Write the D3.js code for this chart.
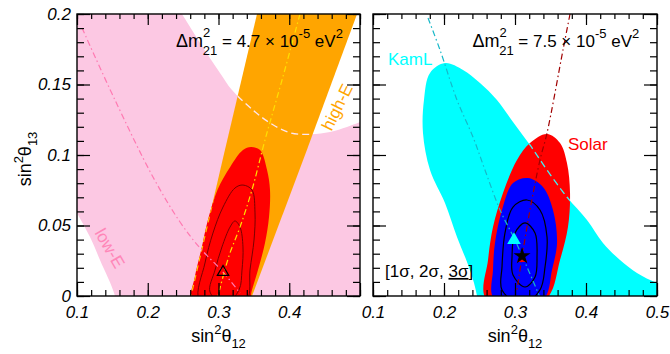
<!DOCTYPE html>
<html>
<head>
<meta charset="utf-8">
<title>Solar, KamLAND and high/low-E regions</title>
<script src="https://cdn.jsdelivr.net/npm/d3@7/dist/d3.min.js"></script>
<style>
body{
  margin:0;
  background:#fff}

svg{
  display:block;
  font-family:"Liberation Sans", Arial, sans-serif}

.tick text{
  font-family:"Liberation Sans", Arial, sans-serif;
  font-size:17px;
  font-style:italic;
  fill:#000}

.tick line{
  stroke:#000;
  stroke-width:1.2}
</style>
</head>
<body>
<script>
// ---- axis ticks ----
const xTicks = [0.1, 0.2, 0.3, 0.4, 0.5]
const yTicks = [0, 0.05, 0.1, 0.15, 0.2]

// ---- left panel (dm21 = 4.7e-5), points are [sin^2 th12, sin^2 th13] ----
const lowE = [
  [0.070, 0.230], [0.232, 0.213], [0.2484, 0.200], [0.2739, 0.1794], [0.3021, 0.1582],
  [0.3191, 0.1461], [0.3488, 0.1319], [0.3728, 0.1227], [0.4011, 0.1158], [0.4308, 0.1147],
  [0.4576, 0.1163], [0.4816, 0.1199], [0.500, 0.1234], [0.530, 0.130], [0.530, -0.020],
  [0.160, -0.020], [0.1537, 0.000], [0.1325, 0.0255], [0.1184, 0.0418], [0.100, 0.0589],
  [0.090, 0.068], [0.070, 0.090]
]
const highE = [[0.2564, -0.01], [0.3074, 0.1], [0.3591, 0.21], [0.5032, 0.21], [0.4223, 0.1], [0.3399, -0.01]]
const combinedLeft = [
  [0.3459, 0.1057], [0.3587, 0.1035], [0.3686, 0.0894], [0.3728, 0.0752], [0.3714, 0.0560],
  [0.3657, 0.0376], [0.3558, 0.0184], [0.3473, 0.0043], [0.3417, -0.006], [0.302, -0.015],
  [0.2615, -0.006], [0.2665, 0.0135], [0.2755, 0.0326], [0.2850, 0.0539], [0.2985, 0.0752],
  [0.3165, 0.0915], [0.3346, 0.1035]
]
const leftSigma2 = [
  [0.3346, 0.0787], [0.3473, 0.0752], [0.3516, 0.0589], [0.3502, 0.0397], [0.3445, 0.0184],
  [0.3403, -0.003], [0.3049, -0.013], [0.2724, -0.003], [0.2809, 0.0234], [0.2922, 0.0447],
  [0.3064, 0.0631], [0.3233, 0.0766]
]
const leftSigma1 = [
  [0.3233, 0.0532], [0.3304, 0.0489], [0.3346, 0.0348], [0.3332, 0.0184], [0.3290, 0.0043],
  [0.3092, -0.006], [0.2880, 0.0028], [0.2951, 0.0184], [0.3049, 0.0348], [0.3163, 0.0489]
]
const lowELine = [[0.1071, 0.1901], [0.1537, 0.139], [0.2074, 0.0844], [0.2456, 0.0525], [0.2739, 0.0340], [0.3064, 0.0170], [0.3304, 0.0021]]
const highELine = [[0.4152, 0.2], [0.3898, 0.1532], [0.3657, 0.1106], [0.3473, 0.0752], [0.3304, 0.0489], [0.3148, 0.0284], [0.2993, 0]]
const leftBest = [[0.3064, 0.0170]]

// ---- right panel (dm21 = 7.5e-5) ----
const kamL = [
  [0.2014, 0.1652], [0.2268, 0.1603], [0.2507, 0.1511], [0.2746, 0.1390], [0.2972, 0.1234],
  [0.3211, 0.1071], [0.3451, 0.0894], [0.3732, 0.0702], [0.4014, 0.0539], [0.4239, 0.0376],
  [0.4479, 0.0255], [0.4718, 0.0163], [0.500, 0.0092], [0.530, 0.005], [0.530, -0.020],
  [0.250, -0.020], [0.2465, 0.000], [0.2366, 0.0184], [0.2183, 0.0418], [0.2014, 0.0660],
  [0.1803, 0.0894], [0.1704, 0.1156], [0.1718, 0.1390], [0.1803, 0.1582]
]
const solar = [
  [0.3451, 0.1149], [0.3634, 0.1085], [0.3732, 0.0943], [0.3775, 0.0730], [0.3746, 0.0489],
  [0.3634, 0.0255], [0.3465, -0.001], [0.300, -0.015], [0.2577, -0.001], [0.2620, 0.0255],
  [0.2690, 0.0489], [0.2831, 0.0730], [0.3028, 0.0965], [0.3211, 0.1085]
]
const globalFit = [
  [0.3183, 0.0837], [0.3394, 0.0773], [0.3535, 0.0610], [0.3592, 0.0376], [0.3521, 0.0184],
  [0.3423, -0.001], [0.305, -0.012], [0.2690, -0.001], [0.2690, 0.0184], [0.2718, 0.0376],
  [0.2817, 0.0610], [0.2972, 0.0801]
]
const rightSigma2 = [
  [0.3169, 0.0681], [0.3352, 0.0610], [0.3451, 0.0418], [0.3423, 0.0206], [0.3352, 0.0043],
  [0.3099, -0.006], [0.2817, 0.0043], [0.2817, 0.0206], [0.2859, 0.0447], [0.2972, 0.0631]
]
const rightSigma1 = [
  [0.3141, 0.0518], [0.3282, 0.0447], [0.3310, 0.0277], [0.3282, 0.0135], [0.3141, 0.0064],
  [0.2972, 0.0149], [0.2958, 0.0277], [0.3000, 0.0447]
]
const kamLLine = [[0.1775, 0.1972], [0.1944, 0.1745], [0.2183, 0.1390], [0.2408, 0.1128], [0.2577, 0.0894], [0.2789, 0.0610], [0.3000, 0.0397], [0.3169, 0.0206], [0.3352, -0.001]]
const solarLine = [[0.3775, 0.2], [0.3676, 0.1745], [0.3451, 0.1156], [0.3352, 0.0965], [0.3211, 0.0610], [0.3099, 0.0277], [0.3028, 0.0043]]
const kamLBest = [[0.2986, 0.0397]]
const solarBest = [[0.3099, 0.0262]]
const globalBest = [[0.3099, 0.0284]]

// ---- colours ----
const pink = '#fcc8e3', orange = '#ffa500', red = '#ff0000', cyan = '#00ffff', blue = '#0000ff'

// ---- scales ----
const y = d3.scaleLinear().domain([0, 0.2]).range([296, 14])
const xLeft = d3.scaleLinear().domain([0.1, 0.5]).range([77, 360])
const xRight = d3.scaleLinear().domain([0.1, 0.5]).range([373, 657])

const svg = d3.select('body')
  .append('svg')
    .attr('width', 670)
    .attr('height', 354)

const defs = svg.append('defs')

const region = x => d3.line().x(d => x(d[0])).y(d => y(d[1])).curve(d3.curveCatmullRomClosed.alpha(0.5))
const polygon = x => d3.line().x(d => x(d[0])).y(d => y(d[1])).curve(d3.curveLinearClosed)
const curve = x => d3.line().x(d => x(d[0])).y(d => y(d[1])).curve(d3.curveCatmullRom.alpha(0.5))

const addClip = (id, d) => defs.append('clipPath').attr('id', id).append('path').attr('d', d)

const panelGroup = (x, name) => {
  addClip(name, `M${x(0.1)},${y(0.2)}H${x(0.5)}V${y(0)}H${x(0.1)}Z`)
  return svg.append('g').attr('clip-path', `url(#${name})`)
}

const fillPath = (g, d, color) => g.append('path').attr('d', d).attr('fill', color)

const strokePath = (g, d, color, dash, w = 1.2) => g.append('path')
    .attr('d', d)
    .attr('fill', 'none')
    .attr('stroke', color)
    .attr('stroke-width', w)
    .attr('stroke-dasharray', dash)

const dashDot = '6,3,1.5,3'

// ===== left panel =====
const gL = panelGroup(xLeft, 'frame-left')
const regionL = region(xLeft), polyL = polygon(xLeft), curveL = curve(xLeft)

fillPath(gL, regionL(lowE), pink)
fillPath(gL, polyL(highE), orange)
addClip('in-highE', polyL(highE))
strokePath(gL.append('g').attr('clip-path', 'url(#in-highE)'), regionL(lowE), '#fde6f1', '7,4', 1.3)
fillPath(gL, regionL(combinedLeft), red)
addClip('in-combined-left', regionL(combinedLeft))
strokePath(gL.append('g').attr('clip-path', 'url(#in-combined-left)'), polyL(highE), '#ffc800', '6,4', 1.3)
strokePath(gL, regionL(leftSigma2), '#7a0000', null, 1)
strokePath(gL, regionL(leftSigma1), '#7a0000', null, 1)
strokePath(gL, curveL(lowELine), '#ff7ab2', dashDot)
strokePath(gL, curveL(highELine), '#ffe000', dashDot)

gL.selectAll('.best')
  .data(leftBest)
  .enter().append('path')
    .attr('transform', d => `translate(${xLeft(d[0])},${y(d[1])})`)
    .attr('d', d3.symbol().type(d3.symbolTriangle).size(55))
    .attr('fill', 'none')
    .attr('stroke', '#000')
    .attr('stroke-width', 1.3)

// ===== right panel =====
const gR = panelGroup(xRight, 'frame-right')
const regionR = region(xRight), curveR = curve(xRight)

fillPath(gR, regionR(kamL), cyan)
fillPath(gR, regionR(solar), red)
addClip('in-solar', regionR(solar))
strokePath(gR.append('g').attr('clip-path', 'url(#in-solar)'), regionR(kamL), '#40f0f0', '7,4', 1.3)
fillPath(gR, regionR(globalFit), blue)
strokePath(gR, regionR(rightSigma2), '#000', null, 1.2)
strokePath(gR, regionR(rightSigma1), '#000', null, 1.2)
strokePath(gR, curveR(kamLLine), '#16b8c8', dashDot)
strokePath(gR, curveR(solarLine), '#a00000', dashDot)

const marker = (data, type, size, color) => gR.append('g')
  .selectAll('path')
  .data(data)
  .enter().append('path')
    .attr('transform', d => `translate(${xRight(d[0])},${y(d[1])})`)
    .attr('d', d3.symbol().type(type).size(size))
    .attr('fill', color)

marker(kamLBest, d3.symbolTriangle, 80, cyan)
marker(solarBest, d3.symbolTriangle, 45, red)
marker(globalBest, d3.symbolStar, 90, '#000')

// ===== frames and axes =====
const drawAxes = (x, xLabels, yLabels) => {
  const minorX = x.ticks(20), minorY = y.ticks(20)
  const noDomain = g => g.select('.domain').remove()
  const at = (g, tx, ty) => g.append('g').attr('transform', `translate(${tx},${ty})`)

  at(svg, 0, y(0)).call(d3.axisBottom(x).tickValues(minorX).tickSize(-6).tickFormat('')).call(noDomain)
  at(svg, 0, y(0)).call(d3.axisBottom(x).tickValues(xTicks).tickSize(-13).tickPadding(10)
      .tickFormat(d => xLabels.includes(d) ? String(d) : '')).call(noDomain)
  at(svg, 0, y(0.2)).call(d3.axisTop(x).tickValues(minorX).tickSize(-5).tickFormat('')).call(noDomain)
  at(svg, 0, y(0.2)).call(d3.axisTop(x).tickValues(xTicks).tickSize(-11).tickFormat('')).call(noDomain)

  at(svg, x(0.1), 0).call(d3.axisLeft(y).tickValues(minorY).tickSize(-7).tickFormat('')).call(noDomain)
  at(svg, x(0.1), 0).call(d3.axisLeft(y).tickValues(yTicks).tickSize(-13).tickPadding(6)
      .tickFormat(d => yLabels ? String(d) : '')).call(noDomain)
  at(svg, x(0.5), 0).call(d3.axisRight(y).tickValues(minorY).tickSize(-7).tickFormat('')).call(noDomain)
  at(svg, x(0.5), 0).call(d3.axisRight(y).tickValues(yTicks).tickSize(-13).tickFormat('')).call(noDomain)

  svg.append('rect')
      .attr('x', x(0.1))
      .attr('y', y(0.2))
      .attr('width', x(0.5) - x(0.1))
      .attr('height', y(0) - y(0.2))
      .attr('fill', 'none')
      .attr('stroke', '#000')
      .attr('stroke-width', 1.4)

  // x axis title
  const t = svg.append('text')
      .attr('x', x(0.3))
      .attr('y', 342)
      .attr('text-anchor', 'middle')
      .style('font-size', '18px')
  t.append('tspan').text('sin')
  t.append('tspan').attr('dy', -8).style('font-size', '13px').text('2')
  t.append('tspan').attr('dy', 8).text('θ')
  t.append('tspan').attr('dy', 6).style('font-size', '13px').text('12')
}

drawAxes(xLeft, [0.1, 0.2, 0.3, 0.4], true)
drawAxes(xRight, xTicks, false)

// y axis title
const yt = svg.append('text')
    .attr('transform', `translate(31,${y(0.1) + 4}) rotate(-90)`)
    .attr('text-anchor', 'middle')
    .style('font-size', '18px')
yt.append('tspan').text('sin')
yt.append('tspan').attr('dy', -8).style('font-size', '13px').text('2')
yt.append('tspan').attr('dy', 8).text('θ')
yt.append('tspan').attr('dy', 6).style('font-size', '13px').text('13')

// ===== annotations =====
const dmLabel = (x, value) => {
  const t = svg.append('text')
      .attr('x', x(0.24))
      .attr('y', y(0.1766))
      .style('font-size', '17px')
  t.append('tspan').style('font-size', '18px').text('Δm')
  t.append('tspan').attr('dy', -10).style('font-size', '13px').text('2')
  t.append('tspan').attr('dx', -7.5).attr('dy', 18).style('font-size', '13px').text('21')
  t.append('tspan').attr('dy', -8).text(` = ${value} × 10`)
  t.append('tspan').attr('dy', -9).style('font-size', '13px').text('-5')
  t.append('tspan').attr('dy', 9).text(' eV')
  t.append('tspan').attr('dy', -9).style('font-size', '13px').text('2')
}
dmLabel(xLeft, '4.7')
dmLabel(xRight, '7.5')

const label = (x, px, py, text, color, angle = 0, anchor = 'start') => svg.append('text')
    .attr('transform', `translate(${x(px)},${y(py)}) rotate(${angle})`)
    .attr('text-anchor', anchor)
    .attr('fill', color)
    .style('font-size', '17px')
    .text(text)

label(xLeft, 0.1466, 0.034, 'low-E', '#ff86b8', 60, 'middle').attr('dy', '0.35em')
label(xLeft, 0.4675, 0.134, 'high-E', orange, -64, 'middle').attr('dy', '0.35em')
label(xRight, 0.1211, 0.1638, 'KamL', cyan)
label(xRight, 0.3746, 0.1035, 'Solar', red)

const sig = svg.append('text')
    .attr('x', xRight(0.1169))
    .attr('y', y(0.0135))
    .style('font-size', '17px')
sig.append('tspan').text('[1σ, 2σ, ')
sig.append('tspan').attr('text-decoration', 'underline').text('3σ')
sig.append('tspan').text(']')
</script>
</body>
</html>
